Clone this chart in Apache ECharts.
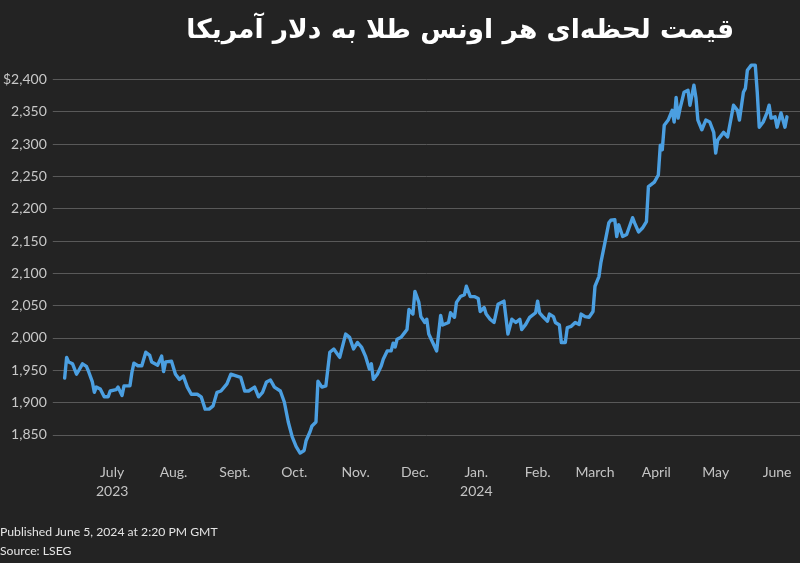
<!DOCTYPE html>
<html><head><meta charset="utf-8">
<script src="https://cdn.jsdelivr.net/npm/echarts@6/dist/echarts.min.js"></script>
<style>html,body{margin:0;padding:0;background:#232323;}#c{width:800px;height:563px;}</style>
</head><body><div id="c"></div>
<script>
const titleText = 'قیمت لحظه‌ای هر اونس طلا به دلار آمریکا';
const footerPublished = 'Published June 5, 2024 at 2:20 PM GMT';
const footerSource = 'Source: LSEG';

const dates = [
'2023-06-07','2023-06-08','2023-06-09','2023-06-11','2023-06-13','2023-06-14','2023-06-16','2023-06-18','2023-06-19','2023-06-21','2023-06-22','2023-06-23','2023-06-25','2023-06-27','2023-06-29','2023-06-30',
'2023-07-03','2023-07-04','2023-07-06','2023-07-07','2023-07-10','2023-07-11','2023-07-12','2023-07-14','2023-07-16','2023-07-18','2023-07-20','2023-07-21','2023-07-24','2023-07-26','2023-07-27','2023-07-28','2023-07-31',
'2023-08-02','2023-08-04','2023-08-06','2023-08-08','2023-08-10','2023-08-13','2023-08-15','2023-08-17','2023-08-19','2023-08-21','2023-08-23','2023-08-25','2023-08-28','2023-08-30',
'2023-09-02','2023-09-04','2023-09-06','2023-09-08','2023-09-11','2023-09-13','2023-09-15','2023-09-17','2023-09-19','2023-09-21','2023-09-22','2023-09-24','2023-09-26','2023-09-28','2023-09-30',
'2023-10-02','2023-10-04','2023-10-06','2023-10-07','2023-10-09','2023-10-10','2023-10-12','2023-10-13','2023-10-15','2023-10-17','2023-10-19','2023-10-21','2023-10-24','2023-10-27','2023-10-29','2023-10-31',
'2023-11-02','2023-11-04','2023-11-06','2023-11-08','2023-11-09','2023-11-10','2023-11-12','2023-11-14','2023-11-15','2023-11-17','2023-11-19','2023-11-20','2023-11-21','2023-11-22','2023-11-24','2023-11-26','2023-11-27','2023-11-28','2023-11-29','2023-11-30',
'2023-12-01','2023-12-03','2023-12-04','2023-12-06','2023-12-07','2023-12-08','2023-12-10','2023-12-12','2023-12-14','2023-12-15','2023-12-18','2023-12-19','2023-12-21','2023-12-22','2023-12-24','2023-12-26','2023-12-27','2023-12-29','2023-12-31',
'2024-01-02','2024-01-03','2024-01-05','2024-01-06','2024-01-08','2024-01-10','2024-01-12','2024-01-15','2024-01-16','2024-01-17','2024-01-19','2024-01-21','2024-01-23','2024-01-24','2024-01-26','2024-01-28','2024-01-31',
'2024-02-01','2024-02-02','2024-02-04','2024-02-06','2024-02-07','2024-02-09','2024-02-10','2024-02-12','2024-02-13','2024-02-15','2024-02-16','2024-02-18','2024-02-20','2024-02-22','2024-02-23','2024-02-25','2024-02-27','2024-02-29',
'2024-03-01','2024-03-03','2024-03-04','2024-03-06','2024-03-08','2024-03-09','2024-03-11','2024-03-12','2024-03-13','2024-03-15','2024-03-17','2024-03-18','2024-03-20','2024-03-21','2024-03-23','2024-03-25','2024-03-27','2024-03-28','2024-03-31',
'2024-04-02','2024-04-03','2024-04-04','2024-04-05','2024-04-07','2024-04-08','2024-04-09','2024-04-10','2024-04-11','2024-04-12','2024-04-13','2024-04-15','2024-04-17','2024-04-18','2024-04-20','2024-04-21','2024-04-22','2024-04-24','2024-04-26','2024-04-28','2024-04-30',
'2024-05-01','2024-05-02','2024-05-03','2024-05-05','2024-05-07','2024-05-08','2024-05-10','2024-05-12','2024-05-13','2024-05-15','2024-05-16','2024-05-17','2024-05-19','2024-05-20','2024-05-21','2024-05-22','2024-05-23','2024-05-25','2024-05-27','2024-05-28','2024-05-29','2024-05-31',
'2024-06-01','2024-06-03','2024-06-04','2024-06-05','2024-06-06'
];
const prices = [
1938,1970,1963,1960,1944,1949,1960,1956,1949,1932,1916,1924,1921,1909,1909,1918,
1920,1924,1911,1926,1926,1947,1961,1957,1957,1978,1973,1963,1958,1972,1948,1963,1964,
1944,1936,1941,1924,1913,1913,1909,1890,1890,1895,1916,1918,1929,1944,
1941,1939,1918,1918,1924,1909,1916,1932,1935,1924,1926,1918,1901,1870,1847,
1832,1822,1826,1841,1855,1864,1870,1933,1924,1926,1978,1983,1970,2006,2001,1983,
1993,1986,1972,1952,1960,1936,1944,1957,1967,1980,1980,1992,1986,1998,2001,2009,2013,2044,2047,2037,
2072,2055,2033,2024,2029,2006,1993,1980,2035,2020,2024,2039,2032,2055,2064,2067,2080,2064,2064,
2061,2041,2047,2037,2029,2024,2052,2057,2032,2006,2029,2024,2029,2013,2021,2032,2039,
2057,2039,2032,2026,2037,2033,2024,2020,1993,1993,2016,2018,2024,2021,2037,2033,2032,2041,
2080,2095,2117,2147,2178,2182,2183,2157,2175,2157,2160,2157,2186,2178,2164,2170,2180,2234,2241,
2252,2298,2291,2329,2337,2340,2352,2334,2372,2340,2355,2380,2383,2360,2391,2372,2337,2322,2337,2334,2318,
2286,2306,2303,2318,2311,2309,2360,2352,2337,2380,2386,2414,2422,2425,2422,2380,2326,2334,2349,2360,2340,2342,
2326,2348,2349,2326,2342
];
const monthTicks = ['2023-07-01','2023-08-01','2023-09-01','2023-10-01','2023-11-01','2023-12-01','2024-01-01','2024-02-01','2024-03-01','2024-04-01','2024-05-01','2024-06-01'];
const monthLabels = ['July\n2023','Aug.','Sept.','Oct.','Nov.','Dec.','Jan.\n2024','Feb.','March','April','May','June'];
const xStart = '2023-06-01';
const xEnd = '2024-06-12';
const xEndExtraDays = 0.6;
const yMin = 1800, yMax = 2450, yStep = 50;

// day number since axis start (UTC, so no DST drift)
const DAY = 86400000;
const dayNum = s => (Date.UTC(+s.slice(0, 4), +s.slice(5, 7) - 1, +s.slice(8, 10)) - Date.UTC(+xStart.slice(0, 4), +xStart.slice(5, 7) - 1, +xStart.slice(8, 10))) / DAY;
const tickDays = monthTicks.map(dayNum);
const seriesData = dates.map((d, i) => [dayNum(d), prices[i]]);

const chart = echarts.init(document.getElementById('c'), null, {renderer: 'canvas'});
chart.setOption({
  backgroundColor: '#232323',
  animation: false,
  grid: {left: 47, right: 0, top: 47, bottom: 95.7, containLabel: false},
  xAxis: {
    type: 'value',
    min: 0, max: dayNum(xEnd) + xEndExtraDays,
    axisLine: {show: false},
    axisTick: {show: false},
    splitLine: {show: false},
    axisLabel: {
      customValues: tickDays,
      color: '#c4c4c4',
      fontFamily: 'Lato',
      fontSize: 14,
      lineHeight: 19,
      margin: -4,
      hideOverlap: false,
      formatter: function (v) {
        let best = 0, bd = Infinity;
        tickDays.forEach((tt, i) => { const d = Math.abs(tt - v); if (d < bd) { bd = d; best = i; } });
        return monthLabels[best];
      }
    }
  },
  yAxis: {
    type: 'value',
    min: yMin, max: yMax, interval: yStep,
    axisLine: {show: false},
    axisTick: {show: false},
    axisLabel: {
      showMinLabel: false, showMaxLabel: false,
      color: '#c8c8c8', fontFamily: 'Lato', fontSize: 14, margin: 6,
      formatter: v => (v === 2400 ? '$' : '') + v.toLocaleString('en-US')
    },
    splitLine: {show: true, showMinLine: false, showMaxLine: false, lineStyle: {color: '#595959', width: 1}}
  },
  series: [{
    type: 'line',
    data: seriesData,
    showSymbol: false,
    lineStyle: {color: '#4b9fe1', width: 3.4, join: 'round', cap: 'round'},
    itemStyle: {color: '#4b9fe1'}
  }],
  graphic: [
    {type: 'text', right: 66, top: 18, style: {text: titleText, fill: '#ffffff', font: 'bold 26.5px "DejaVu Sans"'}},
    {type: 'text', left: 0, top: 526, style: {text: footerPublished, fill: '#e4e4e4', font: '12.2px Lato'}},
    {type: 'text', left: 0, top: 545, style: {text: footerSource, fill: '#e4e4e4', font: '12.2px Lato'}}
  ]
});
</script></body></html>
